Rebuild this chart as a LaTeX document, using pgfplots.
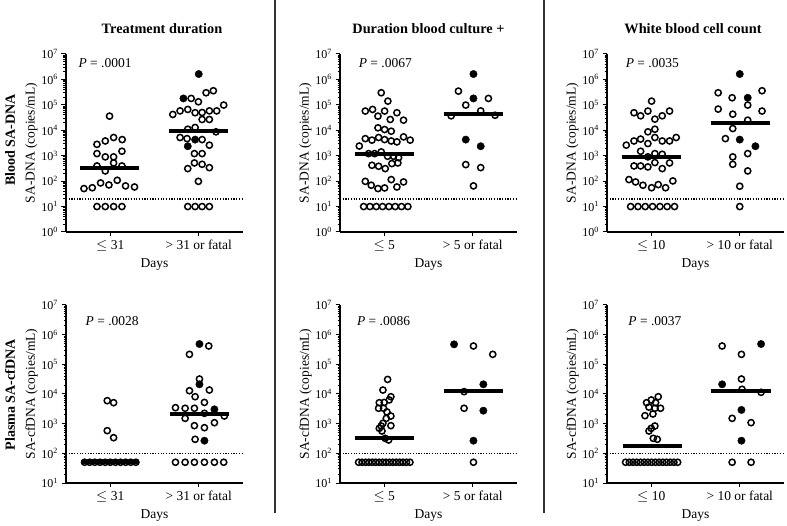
\documentclass[border=0pt]{standalone}
\usepackage{fontspec}
\setmainfont{Liberation Serif}
\usepackage{pgfplots}
\pgfplotsset{compat=1.18}

\newcommand{\fs}[1]{\fontsize{#1}{#1}\selectfont}
\tikzset{pval/.style={anchor=west, inner sep=0pt, font=\fs{13.5}}}

\pgfplotsset{
  myaxis/.style={
    scale only axis, width=177pt, height=178pt,
    xmin=-0.5, xmax=1.5, ymax=1e7,
    axis x line*=bottom, axis y line*=left,
    axis line style={-, line width=1.5pt},
    tick align=outside,
    major tick length=4.5pt, minor tick length=2.5pt,
    tick style={black, line width=1pt},
    xtick={0,1}, xlabel={Days},
    x tick label style={font=\fs{13.5}},
    y tick label style={font=\fs{12}},
    xlabel style={at={(axis description cs:0.5,0)},anchor=center,yshift=-33pt,font=\fs{13.5}},
    ylabel style={at={(axis description cs:-0.195,0.5)},rotate=0,anchor=center,font=\fs{13.5}},
    clip=false,
  },
  mytop/.style={myaxis, ymin=1,
    ytick={1,10,100,1000,10000,100000,1000000,10000000},
    yticklabels={10\textsuperscript{0},10\textsuperscript{1},10\textsuperscript{2},10\textsuperscript{3},10\textsuperscript{4},10\textsuperscript{5},10\textsuperscript{6},10\textsuperscript{7}},
    minor ytick={2,3,4,5,6,7,8,9,2e1,3e1,4e1,5e1,6e1,7e1,8e1,9e1,2e2,3e2,4e2,5e2,6e2,7e2,8e2,9e2,2e3,3e3,4e3,5e3,6e3,7e3,8e3,9e3,2e4,3e4,4e4,5e4,6e4,7e4,8e4,9e4,2e5,3e5,4e5,5e5,6e5,7e5,8e5,9e5,2e6,3e6,4e6,5e6,6e6,7e6,8e6,9e6},
    ylabel={SA-DNA (copies/mL)}},
  mybot/.style={myaxis, ymin=10,
    ytick={10,100,1000,10000,100000,1000000,10000000},
    yticklabels={10\textsuperscript{1},10\textsuperscript{2},10\textsuperscript{3},10\textsuperscript{4},10\textsuperscript{5},10\textsuperscript{6},10\textsuperscript{7}},
    minor ytick={2e1,3e1,4e1,5e1,6e1,7e1,8e1,9e1,2e2,3e2,4e2,5e2,6e2,7e2,8e2,9e2,2e3,3e3,4e3,5e3,6e3,7e3,8e3,9e3,2e4,3e4,4e4,5e4,6e4,7e4,8e4,9e4,2e5,3e5,4e5,5e5,6e5,7e5,8e5,9e5,2e6,3e6,4e6,5e6,6e6,7e6,8e6,9e6},
    ylabel={SA-cfDNA (copies/mL)}},
  myopen/.style={only marks, mark=o, mark size=3.1pt, mark options={line width=1.5pt, black}},
  myfill/.style={only marks, mark=*, mark size=3.7pt, mark options={black, fill=black}},
  mymed/.style={line width=4pt, black, no marks},
  mylod/.style={line width=1.3pt, black, dash pattern=on 1.2pt off 1.5pt, no marks},
}

\begin{document}
\begin{tikzpicture}
\useasboundingbox (0pt,0pt) rectangle (787pt,525pt);

% ---------- Panel 1 ----------
\begin{semilogyaxis}[mytop, at={(66pt,293pt)}, anchor=south west,
  xticklabels={$\leq$ 31, > 31 or fatal}]
\addplot[mylod] coordinates {(-0.5,20) (1.5,20)};
\addplot[myopen] coordinates {
(-0.008,3.6e4) (-0.150,2.8e3) (-0.056,3.8e3) (0.038,5.2e3) (0.135,4.3e3)
(-0.150,1.21e3) (-0.056,900) (0.038,900) (0.132,1.5e3)
(-0.150,396) (-0.056,252) (0.038,520) (0.132,396)
(-0.297,51) (-0.203,55) (-0.109,85) (-0.015,71) (0.079,108) (0.173,65) (0.274,59)
(-0.150,10) (-0.056,10) (0.038,10) (0.132,10)};
\addplot[myopen] coordinates {
(0.914,1.79e5) (0.996,1.32e5) (1.083,2.99e5) (1.165,3.59e5)
(0.707,4.2e4) (0.789,5.8e4) (0.876,6.6e4) (0.959,4.9e4) (1.038,5.0e4) (1.120,5.8e4) (1.203,5.8e4) (1.282,9.8e4)
(1.038,2.66e4) (1.120,2.66e4) (0.876,1.1e4) (0.959,1.29e4) (1.195,8.7e3)
(0.789,5.2e3) (0.868,4.7e3) (1.038,4.3e3) (1.120,2.6e3)
(0.951,1.21e3) (1.038,1.21e3) (0.951,520) (1.038,460) (1.120,340) (0.876,311) (0.996,98)
(0.876,10) (0.959,10) (1.038,10) (1.120,10)};
\addplot[myfill] coordinates {(1.0,1.63e6) (0.827,1.79e5) (0.959,4.3e3) (0.876,2.36e3)};
\addplot[mymed] coordinates {(-0.34,340) (0.33,340)};
\addplot[mymed] coordinates {(0.66,9.2e3) (1.33,9.2e3)};
\node[pval] at (axis cs:-0.36,4.3e6) {\textit{P} = .0001};
\end{semilogyaxis}

% ---------- Panel 2 ----------
\begin{semilogyaxis}[mytop, at={(340pt,293pt)}, anchor=south west,
  xticklabels={$\leq$ 5, > 5 or fatal}]
\addplot[mylod] coordinates {(-0.5,20) (1.5,20)};
\addplot[myopen] coordinates {
(-0.034,2.99e5) (0.041,1.40e5)
(-0.214,5.7e4) (-0.132,6.6e4) (-0.071,3.6e4) (0.004,5.7e4) (0.068,2.66e4) (0.143,4.9e4) (0.218,2.5e4)
(-0.071,1.25e4) (0.004,1.07e4) (0.079,9.2e3)
(-0.214,4.7e3) (-0.139,4.1e3) (-0.064,5.2e3) (0.004,4.3e3) (0.079,3.8e3) (0.143,3.5e3) (0.218,5.5e3) (0.293,4.1e3)
(-0.282,2.4e3)
(-0.177,1.21e3) (-0.109,1.21e3) (-0.034,1.41e3) (0.038,950) (0.105,950) (0.162,840)
(-0.139,420) (-0.064,385) (0.011,311) (0.086,490) (0.154,520)
(-0.214,98) (-0.147,69) (-0.071,51) (0.004,54) (0.079,115) (0.143,59) (0.218,93)
(-0.233,10) (-0.162,10) (-0.090,10) (-0.019,10) (0.053,10) (0.124,10) (0.195,10) (0.267,10)};
\addplot[myopen] coordinates {
(0.838,3.47e5) (1.177,1.79e5) (0.921,9.8e4) (1.090,5.8e4) (0.756,3.7e4) (1.252,3.9e4)
(0.921,447) (1.090,340) (1.008,65)};
\addplot[myfill] coordinates {(1.008,1.63e6) (1.008,1.79e5) (0.921,4.3e3) (1.090,2.36e3)};
\addplot[mymed] coordinates {(-0.33,1.2e3) (0.34,1.2e3)};
\addplot[mymed] coordinates {(0.67,4.2e4) (1.34,4.2e4)};
\node[pval] at (axis cs:-0.29,4.3e6) {\textit{P} = .0067};
\end{semilogyaxis}

% ---------- Panel 3 ----------
\begin{semilogyaxis}[mytop, at={(607pt,293pt)}, anchor=south west,
  xticklabels={$\leq$ 10, > 10 or fatal}]
\addplot[mylod] coordinates {(-0.5,20) (1.5,20)};
\addplot[myopen] coordinates {
(0.004,1.40e5)
(-0.195,4.9e4) (-0.120,3.7e4) (-0.038,5.7e4) (0.041,2.74e4) (0.124,3.7e4) (0.207,5.7e4)
(-0.038,8.7e3) (0.041,1.1e4)
(-0.195,3.8e3) (-0.120,4.5e3) (-0.038,3.0e3) (0.041,5.2e3) (0.124,3.8e3) (0.207,3.8e3) (0.282,5.2e3)
(-0.282,2.6e3)
(-0.120,1.5e3) (-0.038,900) (0.041,1.21e3) (0.124,1.14e3)
(-0.195,396) (-0.120,396) (-0.038,362) (0.041,536) (0.124,311) (0.207,520)
(-0.252,115) (-0.177,93) (-0.094,69) (0.004,55) (0.079,73) (0.162,55) (0.244,102)
(-0.233,10) (-0.150,10) (-0.068,10) (0.015,10) (0.098,10) (0.180,10) (0.263,10)};
\addplot[myopen] coordinates {
(0.756,2.99e5) (0.914,1.9e5) (1.252,3.59e5) (1.090,9.8e4) (0.756,6.8e4) (0.921,4.3e4) (1.252,5.7e4)
(1.090,2.5e4) (0.921,1.17e4) (0.838,4.7e3) (0.921,900) (0.921,460) (1.090,1.21e3) (1.090,252)
(1.0,63) (1.0,10)};
\addplot[myfill] coordinates {(1.0,1.63e6) (1.090,1.9e5) (1.0,4.3e3) (1.177,2.36e3)};
\addplot[mymed] coordinates {(-0.335,900) (0.335,900)};
\addplot[mymed] coordinates {(0.67,2.0e4) (1.34,2.0e4)};
\node[pval] at (axis cs:-0.29,4.3e6) {\textit{P} = .0035};
\end{semilogyaxis}

% ---------- Panel 4 ----------
\begin{semilogyaxis}[mybot, at={(66pt,42pt)}, anchor=south west,
  xticklabels={$\leq$ 31, > 31 or fatal}]
\addplot[mylod] coordinates {(-0.5,100) (1.5,100)};
\addplot[myopen] coordinates {
(-0.034,5.96e3) (0.038,5.1e3) (-0.034,581) (0.038,337)
(-0.29,50) (-0.232,50) (-0.174,50) (-0.116,50) (-0.058,50) (0,50) (0.058,50) (0.116,50) (0.174,50) (0.232,50) (0.29,50)};
\addplot[myopen] coordinates {
(1.113,4.15e5) (0.895,2.17e5) (1.008,3.2e4) (0.895,1.29e4) (1.120,1.36e4) (0.959,8.1e3) (1.064,5.2e3)
(0.737,3.46e3) (0.846,3.3e3) (0.951,3.3e3) (1.064,2.23e3) (1.289,1.81e3) (0.846,1.51e3) (1.177,1.08e3)
(0.951,857) (1.064,733) (0.959,297)
(0.737,50) (0.846,50) (0.951,50) (1.064,50) (1.177,50) (1.282,50)};
\addplot[myfill] coordinates {(1.008,4.84e5) (1.008,2.12e4) (1.177,3.04e3) (1.064,267)};
\addplot[mymed] coordinates {(-0.33,50) (0.33,50)};
\addplot[mymed] coordinates {(0.67,2.2e3) (1.34,2.2e3)};
\node[pval] at (axis cs:-0.28,2.9e6) {\textit{P} = .0028};
\end{semilogyaxis}

% ---------- Panel 5 ----------
\begin{semilogyaxis}[mybot, at={(340pt,42pt)}, anchor=south west,
  xticklabels={$\leq$ 5, > 5 or fatal}]
\addplot[mylod] coordinates {(-0.5,100) (1.5,100)};
\addplot[myopen] coordinates {
(0.038,3.1e4) (-0.015,1.36e4) (0.075,8.1e3) (-0.056,5.1e3) (0,5.2e3) (0.056,6.3e3)
(-0.064,3.3e3) (-0.008,3.3e3) (0.030,2.5e3) (0.075,1.81e3) (0.023,1.51e3)
(-0.015,1.03e3) (0.075,857) (-0.034,834) (-0.056,697) (-0.026,566) (0.011,320) (0.049,281)
(-0.29,50) (-0.251,50) (-0.212,50) (-0.174,50) (-0.135,50) (-0.097,50) (-0.058,50) (-0.019,50)
(0.019,50) (0.058,50) (0.097,50) (0.135,50) (0.174,50) (0.212,50) (0.251,50) (0.29,50)};
\addplot[myopen] coordinates {
(1.008,4.15e5) (1.226,2.17e5) (0.902,1.2e4) (0.902,3.3e3) (1.008,50)};
\addplot[myfill] coordinates {(0.789,4.72e5) (1.120,2.12e4) (1.120,2.74e3) (1.008,267)};
\addplot[mymed] coordinates {(-0.33,320) (0.34,320)};
\addplot[mymed] coordinates {(0.67,1.29e4) (1.34,1.29e4)};
\node[pval] at (axis cs:-0.31,2.9e6) {\textit{P} = .0086};
\end{semilogyaxis}

% ---------- Panel 6 ----------
\begin{semilogyaxis}[mybot, at={(607pt,42pt)}, anchor=south west,
  xticklabels={$\leq$ 10, > 10 or fatal}]
\addplot[mylod] coordinates {(-0.5,100) (1.5,100)};
\addplot[myopen] coordinates {
(0.079,8.1e3) (0,6.3e3) (-0.053,5.1e3) (0.049,5.1e3) (-0.026,3.6e3) (0.041,3.3e3) (0.105,3.3e3)
(-0.071,1.86e3) (0.019,2.12e3) (0.041,834) (0,697) (-0.026,566) (0.023,320) (0.068,297)
(-0.29,50) (-0.248,50) (-0.206,50) (-0.164,50) (-0.122,50) (-0.08,50) (-0.038,50) (0.004,50)
(0.046,50) (0.088,50) (0.13,50) (0.172,50) (0.214,50) (0.256,50) (0.298,50)};
\addplot[myopen] coordinates {
(0.801,4.15e5) (1.019,2.17e5) (1.019,3.2e4) (1.026,1.44e4) (1.241,1.14e4) (0.914,1.51e3) (1.128,1.08e3)
(0.914,50) (1.128,50)};
\addplot[myfill] coordinates {(1.241,4.84e5) (0.801,2.12e4) (1.019,2.9e3) (1.019,267)};
\addplot[mymed] coordinates {(-0.32,177) (0.35,177)};
\addplot[mymed] coordinates {(0.68,1.29e4) (1.35,1.29e4)};
\node[pval] at (axis cs:-0.26,2.9e6) {\textit{P} = .0037};
\end{semilogyaxis}

% ---------- Titles, row labels, separators ----------
\node[font=\bfseries\fs{14.3}] at (162pt,496pt) {Treatment duration};
\node[font=\bfseries\fs{14.3}] at (428.5pt,496pt) {Duration blood culture +};
\node[font=\bfseries\fs{14.3}] at (693pt,496pt) {White blood cell count};
\node[font=\bfseries\fs{14}, rotate=90] at (10pt,385pt) {Blood SA-DNA};
\node[font=\bfseries\fs{14}, rotate=90] at (10pt,130pt) {Plasma SA-cfDNA};
\draw[line width=1.6pt, black!80] (275pt,525pt) -- (275pt,12pt);
\draw[line width=1.6pt, black!80] (544pt,525pt) -- (544pt,12pt);
\end{tikzpicture}
\end{document}
